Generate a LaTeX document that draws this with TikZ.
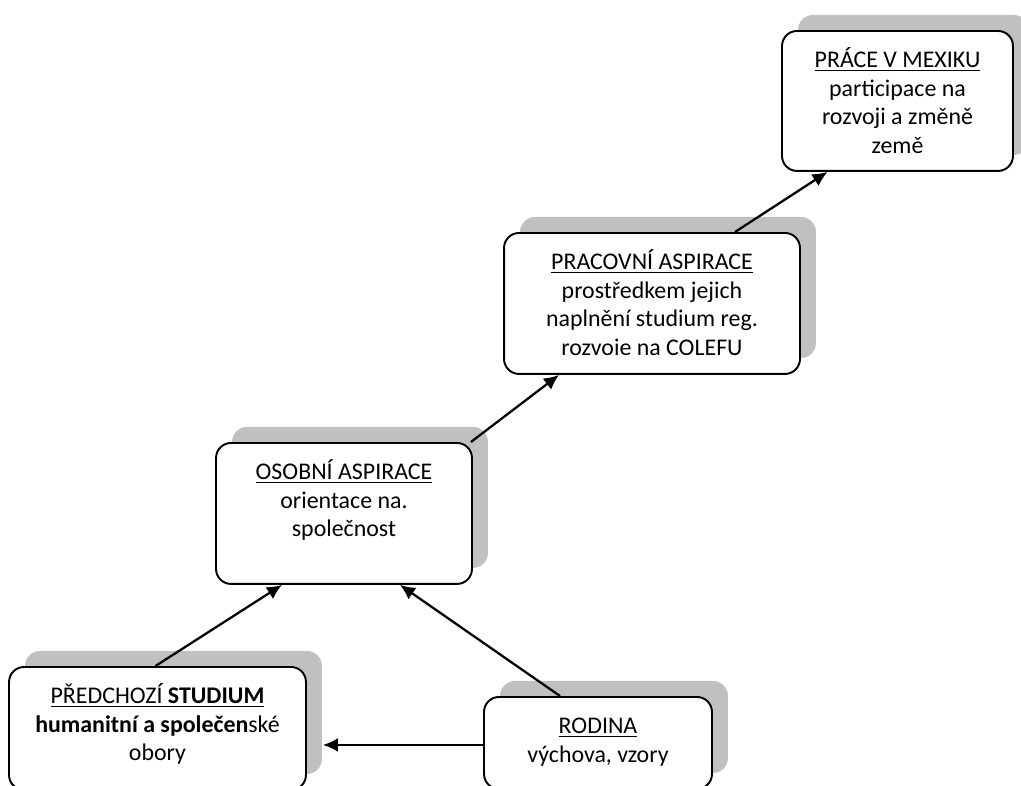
\documentclass[tikz,border=0pt]{standalone}
\usepackage{fontspec}
\setmainfont{Carlito}
\usetikzlibrary{calc,shadows,arrows.meta}
\definecolor{shadowgray}{RGB}{192,192,192}

\tikzset{
	box/.style={draw, line width=1.1pt, rounded corners=0.3cm, fill=white, align=flush center,
		inner xsep=0pt, inner ysep=0pt, text height=0.74cm, anchor=north,
		font=\fontsize{13.6}{16.2}\selectfont,
		general shadow={fill=shadowgray, shadow xshift=0.32cm, shadow yshift=0.32cm}},
	link/.style={line width=1.3pt, -{Latex[length=0.3cm,width=0.28cm]}}
}

\begin{document}
\begin{tikzpicture}[x=0.02cm,y=-0.02cm]
					\useasboundingbox (0,0) rectangle (1021,785);
					\clip (0,0) rectangle (1021,785);

					\node[box, text width=4.62cm, text depth=2.06cm] (mexiko) at (897.5,30)
						{\underline{PRÁCE V MEXIKU}\\participace na\\rozvoji a změně\\země};
					\node[box, text width=5.92cm, text depth=2.08cm] (pracovni) at (652,232)
						{\underline{PRACOVNÍ ASPIRACE}\\prostředkem jejich\\naplnění studium reg.\\rozvoie na COLEFU};
					\node[box, text width=5.12cm, text depth=2.08cm] (osobni) at (344,442)
						{\underline{OSOBNÍ ASPIRACE}\\orientace na.\\společnost};
					\node[box, text width=5.94cm, text depth=1.72cm] (predchozi) at (157.5,666)
						{\underline{PŘEDCHOZÍ {\bf STUDIUM}}\\{\bf humanitní a společen}ské\\obory};
					\node[box, text width=4.56cm, text depth=1.10cm] (rodina) at (598,696)
						{\underline{RODINA}\\výchova, vzory};

					% sipky
					\draw[link] ($(predchozi.north)+(-2,0)$) -- ($(osobni.south)+(-62,0)$);
					\draw[link] ($(rodina.north)+(-38,0)$) -- ($(osobni.south)+(56,0)$);
					\draw[link] ($(rodina.west)+(0,2)$) -- ($(predchozi.east |- rodina.west)+(16,2)$);
					\draw[link] ($(osobni.north east)+(-2,0)$) -- ($(pracovni.south)+(-93,0)$);
					\draw[link] ($(pracovni.north)+(83,0)$) -- ($(mexiko.south)+(-70,0)$);
				\end{tikzpicture}
\end{document}
